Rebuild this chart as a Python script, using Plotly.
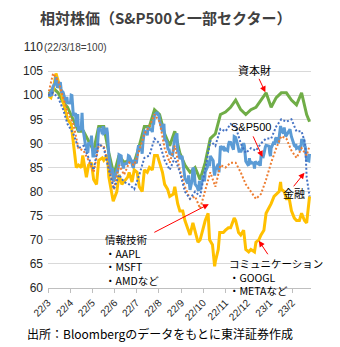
import plotly.graph_objects as go

# ---------------- data ----------------
sp_dates = [
 "2022-03-18","2022-03-21","2022-03-22","2022-03-23","2022-03-24","2022-03-25","2022-03-28","2022-03-29","2022-03-30","2022-03-31",
 "2022-04-01","2022-04-04","2022-04-05","2022-04-06","2022-04-07","2022-04-08","2022-04-11","2022-04-12","2022-04-13","2022-04-14",
 "2022-04-18","2022-04-19","2022-04-20","2022-04-21","2022-04-22","2022-04-25","2022-04-26","2022-04-27","2022-04-28","2022-04-29",
 "2022-05-02","2022-05-03","2022-05-04","2022-05-05","2022-05-06","2022-05-09","2022-05-10","2022-05-11","2022-05-12","2022-05-13",
 "2022-05-16","2022-05-17","2022-05-18","2022-05-19","2022-05-20","2022-05-23","2022-05-24","2022-05-25","2022-05-26","2022-05-27","2022-05-31",
 "2022-06-01","2022-06-02","2022-06-03","2022-06-06","2022-06-07","2022-06-08","2022-06-09","2022-06-10","2022-06-13","2022-06-14",
 "2022-06-15","2022-06-16","2022-06-17","2022-06-21","2022-06-22","2022-06-23","2022-06-24","2022-06-27","2022-06-28","2022-06-29","2022-06-30",
 "2022-07-01","2022-07-05","2022-07-06","2022-07-07","2022-07-08","2022-07-11","2022-07-12","2022-07-13","2022-07-14","2022-07-15",
 "2022-07-18","2022-07-19","2022-07-20","2022-07-21","2022-07-22","2022-07-25","2022-07-26","2022-07-27","2022-07-28","2022-07-29",
 "2022-08-01","2022-08-02","2022-08-03","2022-08-04","2022-08-05","2022-08-08","2022-08-09","2022-08-10","2022-08-11","2022-08-12",
 "2022-08-15","2022-08-16","2022-08-17","2022-08-18","2022-08-19","2022-08-22","2022-08-23","2022-08-24","2022-08-25","2022-08-26",
 "2022-08-29","2022-08-30","2022-08-31",
 "2022-09-01","2022-09-02","2022-09-06","2022-09-07","2022-09-08","2022-09-09","2022-09-12","2022-09-13","2022-09-14","2022-09-15",
 "2022-09-16","2022-09-19","2022-09-20","2022-09-21","2022-09-22","2022-09-23","2022-09-26","2022-09-27","2022-09-28","2022-09-29","2022-09-30",
 "2022-10-03","2022-10-04","2022-10-05","2022-10-06","2022-10-07","2022-10-10","2022-10-11","2022-10-12","2022-10-13","2022-10-14",
 "2022-10-17","2022-10-18","2022-10-19","2022-10-20","2022-10-21","2022-10-24","2022-10-25","2022-10-26","2022-10-27","2022-10-28","2022-10-31",
 "2022-11-01","2022-11-02","2022-11-03","2022-11-04","2022-11-07","2022-11-08","2022-11-09","2022-11-10","2022-11-11","2022-11-14",
 "2022-11-15","2022-11-16","2022-11-17","2022-11-18","2022-11-21","2022-11-22","2022-11-23","2022-11-25","2022-11-28","2022-11-29","2022-11-30",
 "2022-12-01","2022-12-02","2022-12-05","2022-12-06","2022-12-07","2022-12-08","2022-12-09","2022-12-12","2022-12-13","2022-12-14",
 "2022-12-15","2022-12-16","2022-12-19","2022-12-20","2022-12-21","2022-12-22","2022-12-23","2022-12-27","2022-12-28","2022-12-29","2022-12-30",
 "2023-01-03","2023-01-04","2023-01-05","2023-01-06","2023-01-09","2023-01-10","2023-01-11","2023-01-12","2023-01-13","2023-01-17",
 "2023-01-18","2023-01-19","2023-01-20","2023-01-23","2023-01-24","2023-01-25","2023-01-26","2023-01-27","2023-01-30","2023-01-31",
 "2023-02-01","2023-02-02","2023-02-03","2023-02-06","2023-02-07","2023-02-08","2023-02-09","2023-02-10","2023-02-13","2023-02-14",
 "2023-02-15","2023-02-16","2023-02-17","2023-02-21","2023-02-22","2023-02-23","2023-02-24","2023-02-27","2023-02-28",
 "2023-03-01","2023-03-02","2023-03-03","2023-03-06","2023-03-07","2023-03-08","2023-03-09","2023-03-10","2023-03-13","2023-03-14",
]
sp_close = [
 4463,4461,4512,4457,4520,4543,4575,4631,4602,4530,
 4546,4583,4525,4481,4500,4488,4413,4397,4447,4392,
 4391,4463,4460,4394,4272,4297,4175,4184,4288,4132,
 4155,4175,4300,4147,4123,3991,4001,3936,3930,4024,
 4008,4088,3923,3901,3901,3974,3941,3979,4058,4158,4132,
 4101,4177,4109,4121,4161,4116,4018,3901,3750,3735,
 3790,3667,3675,3765,3760,3796,3912,3900,3821,3819,3785,
 3825,3831,3845,3903,3899,3855,3819,3802,3790,3863,
 3831,3937,3960,3999,3962,3967,3921,4024,4073,4130,
 4119,4091,4155,4152,4145,4140,4122,4210,4208,4280,
 4297,4305,4275,4284,4228,4138,4128,4141,4199,4058,
 4031,3986,3955,
 3967,3924,3908,3980,4006,4067,4110,3932,3946,3901,
 3873,3900,3856,3790,3758,3693,3655,3647,3720,3640,3586,
 3678,3791,3783,3745,3640,3612,3589,3577,3669,3583,
 3677,3720,3695,3666,3752,3797,3859,3830,3807,3901,3872,
 3856,3760,3720,3771,3807,3828,3749,3957,3993,3957,
 3992,3959,3947,3965,3950,4004,4027,4026,3964,3958,4080,
 4076,4072,3999,3941,3934,3963,3934,3990,4019,3996,
 3896,3852,3818,3821,3879,3822,3845,3829,3783,3849,3840,
 3825,3853,3808,3895,3893,3919,3970,3983,3999,3991,
 3929,3899,3973,4020,4017,4016,4060,4071,4018,4077,
 4120,4179,4136,4111,4164,4118,4082,4090,4137,4136,
 4148,4090,4079,3997,3991,4012,3970,3982,3970,
 3951,3981,4046,4048,3986,3992,3918,3862,3855,3920,
]
sp_base = 4463  # 22/3/18 = 100

week_dates = [
 "2022-03-18","2022-03-25",
 "2022-04-01","2022-04-08","2022-04-14","2022-04-22","2022-04-29",
 "2022-05-06","2022-05-13","2022-05-20","2022-05-27",
 "2022-06-03","2022-06-10","2022-06-17","2022-06-24",
 "2022-07-01","2022-07-08","2022-07-15","2022-07-22","2022-07-29",
 "2022-08-05","2022-08-12","2022-08-19","2022-08-26",
 "2022-09-02","2022-09-09","2022-09-16","2022-09-23","2022-09-30",
 "2022-10-07","2022-10-14","2022-10-21","2022-10-28",
 "2022-11-04","2022-11-11","2022-11-18","2022-11-25",
 "2022-12-02","2022-12-09","2022-12-16","2022-12-23","2022-12-30",
 "2023-01-06","2023-01-13","2023-01-20","2023-01-27",
 "2023-02-03","2023-02-10","2023-02-17","2023-02-24",
 "2023-03-03","2023-03-10","2023-03-14",
]
industrials = [
 100, 101.5,
 100.5, 98.5, 97.5, 95, 92.5,
 92.5, 90.5, 88.5, 93.5,
 93.5, 88, 83.5, 87.5,
 86, 86.5, 86, 89.5, 93.5,
 93.5, 97, 96, 92,
 89.5, 92.5, 88, 85.5, 84,
 85, 82.5, 86, 91,
 92, 96, 96.5, 97.5,
 99, 97, 96, 97, 97.5,
 99, 100.5, 97.5, 99.5,
 100.5, 100.5, 99, 98,
 100.5, 96, 94.5,
]
info_tech = [
 100, 104.5,
 103, 99.5, 96.5, 94, 89,
 88.5, 86.5, 84, 89.5,
 89.5, 85, 80.5, 85.5,
 83.5, 86, 85.5, 88.5, 92,
 93.5, 96, 94.5, 89,
 86, 89.5, 84.5, 81, 78.5,
 79, 76.5, 80, 84,
 81, 85.5, 85, 86,
 86, 84, 81.5, 80, 78.5,
 79.5, 82.5, 86, 89,
 91.5, 91, 88.5, 87,
 89, 87.5, 89.5,
]
fin_dates = week_dates[:50] + ["2023-03-03","2023-03-08","2023-03-09","2023-03-10","2023-03-13","2023-03-14"]
financials = [
 100, 100.5,
 99.5, 97, 94, 92, 89,
 89.5, 87, 84.5, 90,
 89, 84.5, 80.5, 83.5,
 82, 81.5, 80.5, 83.5, 87,
 87.5, 91, 90, 86.5,
 84.5, 87, 84, 80, 78.5,
 80, 79, 85, 90.5,
 89.5, 93, 92.5, 94,
 93.5, 90, 88, 89, 88.5,
 90, 91, 91, 93.5,
 95, 94.5, 95, 92.5,
 92.5, 90, 86, 83, 80, 79,
]
comm_dates = [
 "2022-03-18","2022-03-22","2022-03-25","2022-03-29","2022-04-01","2022-04-05","2022-04-08","2022-04-12","2022-04-14","2022-04-19",
 "2022-04-22","2022-04-26","2022-04-29","2022-05-03","2022-05-05","2022-05-10","2022-05-13","2022-05-17","2022-05-20","2022-05-24",
 "2022-05-27","2022-06-01","2022-06-03","2022-06-08","2022-06-10","2022-06-14","2022-06-16","2022-06-21","2022-06-24","2022-06-28",
 "2022-07-01","2022-07-06","2022-07-08","2022-07-12","2022-07-15","2022-07-19","2022-07-22","2022-07-26","2022-07-29","2022-08-02",
 "2022-08-05","2022-08-09","2022-08-12","2022-08-16","2022-08-19","2022-08-23","2022-08-26","2022-08-30","2022-09-02","2022-09-07",
 "2022-09-09","2022-09-13","2022-09-16","2022-09-20","2022-09-23","2022-09-27","2022-09-30","2022-10-04","2022-10-07","2022-10-11",
 "2022-10-14","2022-10-18","2022-10-21","2022-10-25","2022-10-27","2022-10-31","2022-11-03","2022-11-04","2022-11-08","2022-11-10",
 "2022-11-15","2022-11-18","2022-11-22","2022-11-25","2022-11-30","2022-12-02","2022-12-06","2022-12-09","2022-12-13","2022-12-16",
 "2022-12-20","2022-12-23","2022-12-28","2022-12-30","2023-01-03","2023-01-06","2023-01-10","2023-01-13","2023-01-17","2023-01-20",
 "2023-01-24","2023-01-27","2023-01-31","2023-02-02","2023-02-03","2023-02-07","2023-02-10","2023-02-14","2023-02-17","2023-02-21",
 "2023-02-24","2023-02-28","2023-03-03","2023-03-07","2023-03-10","2023-03-14",
]
comm_services = [
 100, 99.5, 101, 104.5, 103, 101, 98.5, 96, 95, 94,
 90, 85, 85.5, 85, 87.5, 83, 85.5, 86, 82.5, 81.5,
 86.5, 87, 86.5, 87.5, 83, 79.5, 78, 80, 83.5, 81.5,
 82, 83, 84, 82, 84.5, 84, 81, 80, 84.5, 84,
 85, 84.5, 87.5, 87.5, 86, 84, 81.5, 80.5, 79, 79.5,
 81, 77.5, 76, 76, 74, 72.5, 71, 73.5, 71.5, 69.5,
 70, 72.5, 74, 75.5, 70, 69, 64.5, 65.5, 68, 71.5,
 71.5, 72, 72.5, 72.5, 74.5, 74, 71.5, 71, 72, 68,
 67.5, 68, 67.5, 69.5, 70, 71, 72, 75.5, 76.5, 77.5,
 79, 79.5, 80, 82, 80.5, 80, 78.5, 78.5, 76, 74.5,
 74, 74, 75.5, 74, 73.5, 79,
]

tick_dates = ["2022-03-18","2022-04-18","2022-05-18","2022-06-18","2022-07-18","2022-08-18",
              "2022-09-18","2022-10-18","2022-11-18","2022-12-18","2023-01-18","2023-02-18"]
tick_labels = ["22/3","22/4","22/5","22/6","22/7","22/8","22/9","22/10","22/11","22/12","23/1","23/2"]
y_ticks = [60, 65, 70, 75, 80, 85, 90, 95, 100, 105, 110]

sp500 = [c / sp_base * 100 for c in sp_close]

# ---------------- figure ----------------
FONT = "Liberation Sans, Arial, Noto Sans CJK JP, sans-serif"
JP = "Noto Sans CJK JP, sans-serif"
DOT = "2px,2px"

fig = go.Figure()
fig.add_trace(go.Scatter(x=week_dates, y=industrials, mode="lines", name="資本財",
                         line=dict(color="#70AD47", width=3)))
fig.add_trace(go.Scatter(x=comm_dates, y=comm_services, mode="lines", name="コミュニケーション",
                         line=dict(color="#FFC000", width=3)))
fig.add_trace(go.Scatter(x=sp_dates, y=sp500, mode="lines", name="S&P500",
                         line=dict(color="#5B9BD5", width=3)))
fig.add_trace(go.Scatter(x=week_dates, y=info_tech, mode="lines", name="情報技術",
                         line=dict(color="#ED7D31", width=2, dash=DOT)))
fig.add_trace(go.Scatter(x=fin_dates, y=financials, mode="lines", name="金融",
                         line=dict(color="#4472C4", width=2, dash=DOT)))

W, H = 340, 347
L, R, T, B = 48, 29, 47, 59
PW, PH = W - L - R, H - T - B

def px(xp):
    return (xp - L) / PW

def py(yp):
    return (H - B - yp) / PH

ann = []
def text(xp, yp, s, size=11, anchor="center", fam=JP, color="#000000", yanchor="middle"):
    ann.append(dict(x=px(xp), y=py(yp), xref="paper", yref="paper", text=s, showarrow=False,
                    xanchor=anchor, yanchor=yanchor, align="left",
                    font=dict(size=size, family=fam, color=color)))

def arrow(xd, yv, ax, ay):
    ann.append(dict(x=xd, y=yv, xref="x", yref="y", text="", showarrow=True, ax=ax, ay=ay,
                    axref="pixel", ayref="pixel", arrowhead=2, arrowsize=1.2, arrowwidth=1,
                    arrowcolor="#FF0000"))

text(254, 70, "資本財")
arrow("2023-01-12", 100.6, -7, -15)
text(251, 127, "S&amp;P500", fam=FONT)
arrow("2023-01-08", 87.2, -10, -22)
text(294, 193, "金融")
arrow("2023-03-07", 83.9, -12, 15)
text(103, 230, "情報技術<br>・AAPL<br>・MSFT<br>・AMDなど", size=10.5, anchor="left", yanchor="top")
arrow("2022-10-26", 77.4, -56, 29)
text(227, 254, "コミュニケーション<br>・GOOGL<br>・METAなど", size=10.5, anchor="left", yanchor="top")
arrow("2023-01-03", 69.8, 10, 15)
text(42, 47, "(22/3/18=100)", size=10, anchor="left", fam=FONT, color="#404040")
text(165, 18, "<b>相対株価（S&amp;P500と一部セクター）</b>", size=15, color="#404040")
text(25, 333, "出所：Bloombergのデータをもとに東洋証券作成", size=12, anchor="left")

fig.update_layout(
    width=W, height=H,
    margin=dict(l=L, r=R, t=T, b=B),
    paper_bgcolor="white", plot_bgcolor="white",
    showlegend=False,
    annotations=ann,
    font=dict(family=FONT, size=12, color="#262626"),
)
fig.update_xaxes(type="date", range=["2022-03-18", "2023-03-16"],
                 tickmode="array", tickvals=tick_dates, ticktext=tick_labels,
                 tickangle=-45, tickfont=dict(size=10, color="#262626"),
                 showgrid=False, showline=True, linecolor="#BFBFBF", linewidth=1,
                 ticks="outside", ticklen=4, tickcolor="#BFBFBF", zeroline=False)
fig.update_yaxes(range=[60, 110], tickmode="array", tickvals=y_ticks,
                 tickfont=dict(size=12, color="#262626"),
                 showgrid=True, gridcolor="#D9D9D9", gridwidth=1,
                 showline=False, zeroline=False, ticks="", ticklabelstandoff=4)

fig.write_html("out.html")
